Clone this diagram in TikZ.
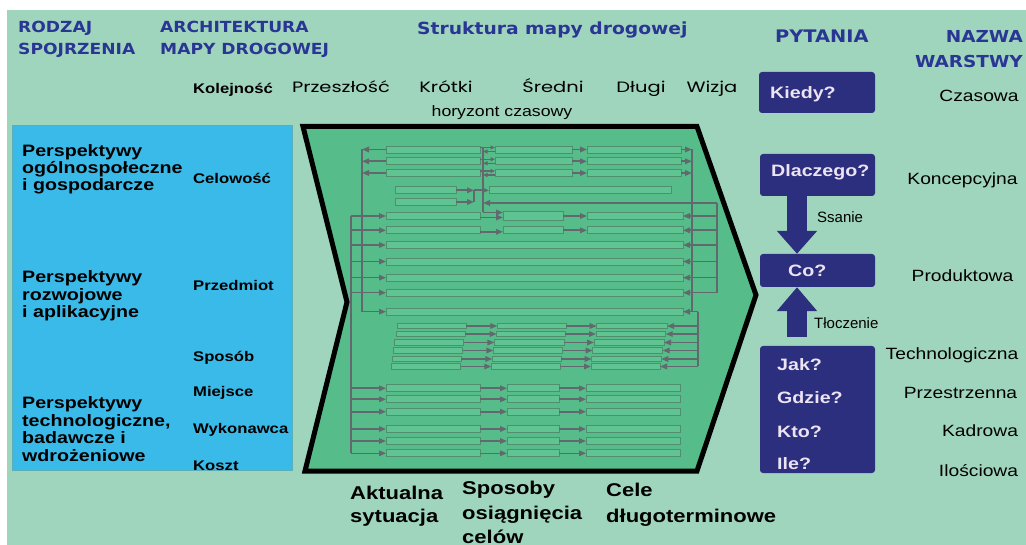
\documentclass[tikz,border=0pt]{standalone}
\usepackage{fontspec}
\setmainfont{Liberation Sans}
\newfontfamily\heavy{DejaVu Sans}[FakeStretch=1.12]
\newfontfamily\semiheavy{Liberation Sans Bold}[FakeStretch=1.19]
\newfontfamily\wideR{Liberation Sans}[FakeStretch=1.18]
\newfontfamily\geo{Poppins}[FakeStretch=1.3]
\usetikzlibrary{arrows.meta,calc}
\definecolor{bgG}{RGB}{160,213,189}
\definecolor{chevG}{RGB}{86,188,138}
\definecolor{barF}{RGB}{96,195,146}
\definecolor{barD}{RGB}{80,142,110}
\definecolor{lineG}{RGB}{98,104,110}
\definecolor{skyB}{RGB}{58,186,232}
\definecolor{navy}{RGB}{44,46,126}
\definecolor{hdr}{RGB}{42,54,148}
\definecolor{qtxt}{RGB}{236,228,242}
\tikzset{
  barbox/.style={draw=barD, fill=barF, line width=0.8pt, inner sep=0pt, outer sep=0pt},
  wire/.style={draw=lineG, line width=1.6pt},
  conn/.style={wire, -{Triangle[length=7pt,width=5.5pt]}},
  sconn/.style={wire, line width=1.2pt, -{Triangle[length=4.5pt,width=4pt]}},
  qbox/.style={fill=navy, rounded corners=3pt, inner sep=0pt},
  blockarrow/.style={draw=navy, line width=20pt},
  hd/.style={inner sep=0pt, text=hdr, font=\heavy\bfseries\fontsize{15.3}{18}\selectfont},
  hdbig/.style={inner sep=0pt, text=hdr, font=\heavy\bfseries\fontsize{16.5}{20}\selectfont},
  bk/.style={inner sep=0pt, text=black, font=\semiheavy\fontsize{16.5}{18}\selectfont},
  bks/.style={inner sep=0pt, text=black, font=\semiheavy\fontsize{14}{16}\selectfont},
  bkl/.style={inner sep=0pt, text=black, font=\semiheavy\fontsize{18.5}{20}\selectfont},
  tl/.style={inner sep=0pt, text=black, font=\geo\fontsize{15}{16}\selectfont},
  lay/.style={inner sep=0pt, text=black, font=\wideR\fontsize{16.3}{18}\selectfont},
  sm/.style={inner sep=0pt, text=black, font=\fontsize{15}{18}\selectfont},
  qt/.style={inner sep=0pt, text=qtxt, font=\semiheavy\fontsize{16.5}{18}\selectfont},
}
\newcommand\mkbar[5][7]{\node[barbox, minimum height=#1, minimum width={#4-#3}] (#2) at ({(#3+#4)/2},#5) {};}
\begin{document}
\begin{tikzpicture}[x=1pt,y=-1pt]
\useasboundingbox (0,0) rectangle (1026,545);
\fill[white] (0,0) rectangle (1026,545);
\fill[bgG] (7,10) rectangle (1026,545);

% left blue panel
\node[fill=skyB, draw={rgb,255:red,90;green,175;blue,185}, line width=0.8pt, anchor=north west,
      minimum width=280, minimum height=345, inner sep=0pt] (perspbox) at (12,125) {};

% chevron
\draw[line width=5pt, fill=chevG, line join=miter, miter limit=10]
  (303,126.5) -- (697,126.5) -- (756,295) -- (697,471) -- (305,471) -- (347,302) -- cycle;

% ---------- bars ----------
\foreach \i/\y in {1/149.5,2/161.3,3/173}{
  \mkbar{R\i a}{386}{480}{\y}
  \mkbar{R\i b}{495}{572}{\y}
  \mkbar{R\i c}{587}{681}{\y}
}
\mkbar{R4a}{395}{456}{190.3}
\mkbar{R5a}{395}{456}{202}
\mkbar{R4b}{489}{671}{190.3}
\mkbar{R6a}{386}{480}{216}
\mkbar[9]{R6b}{503}{563}{216}
\mkbar{R6c}{587}{683}{216}
\mkbar{R7a}{386}{480}{230.3}
\mkbar{R7b}{503}{563}{230.3}
\mkbar{R7c}{587}{683}{230.3}
\foreach \i/\y in {8/245,9/261.5,10/277.7,11/292.7,12/311.7}{
  \mkbar{R\i a}{386}{683}{\y}
}
\foreach \i/\y/\xa/\xb/\xc/\xd/\xe/\xf in {
  13/326/397/466/497.3/566/596.7/667,
  14/334/396.3/465/496.7/565.3/596/665.7,
  15/342.5/394.3/463.7/494.3/564/594/664,
  16/350.5/393.3/462.7/493.3/562.7/592.7/662.7,
  17/359/392.3/461.3/492.3/561.3/591.7/661.3,
  18/366.5/391/460.7/491.3/560.3/591/660}{
  \mkbar[5.5]{R\i a}{\xa}{\xb}{\y}
  \mkbar[5.5]{R\i b}{\xc}{\xd}{\y}
  \mkbar[5.5]{R\i c}{\xe}{\xf}{\y}
}
\foreach \i/\y in {19/388.3,20/399.3,21/411.7,22/429,23/441,24/453.3}{
  \mkbar{R\i a}{386}{480}{\y}
  \mkbar{R\i b}{507}{559}{\y}
  \mkbar{R\i c}{586}{680}{\y}
}

% ---------- junction coordinates ----------
\coordinate (L362t) at (362,149.5);  \coordinate (L362b) at (362,311.7);
\coordinate (L351t) at (351,216);    \coordinate (L351b) at (351,453.3);
\coordinate (M483t) at (483,147.5);  \coordinate (M483b) at (483,212.5);
\coordinate (J4) at (474,190.3);     \coordinate (J5) at (474,202);
\coordinate (R717t) at (717,203);    \coordinate (R717b) at (717,292.7);
\coordinate (R692t) at (692,149.5);  \coordinate (R692b) at (692,311.7);
\coordinate (R698t) at (698,311.7);  \coordinate (R698b) at (698,366.5);

% vertical collectors
\draw[wire] (L362t) -- (L362b);
\draw[wire] (L351t) -- (L351b);
\draw[wire] (M483t) -- (M483b);
\draw[wire] (J4) -- (J5);
\draw[wire] (R717t) -- (R717b);
\draw[wire] (R692t) -- (R692b);
\draw[wire] (R698t) -- (R698b);

% rows 1-3
\foreach \i in {1,2,3}{
  \draw[conn] (R\i a.west) -- (R\i a.west -| L362t);
  \draw[sconn] ($(R\i a.east)+(0,-2)$) -- ($(R\i b.west)+(0,-2)$);
  \draw[sconn] ($(R\i b.west)+(0,2)$) -- ($(R\i b.west -| M483t)+(0,2)$);
  \draw[conn] (R\i b.east) -- (R\i c.west);
  \draw[conn] (R\i c.east) -- (R\i c.east -| R692t);
}
% rows 4-5
\draw[conn] (R4a.east) -- (J4);
\draw[conn] (R5a.east) -- (J5);
\draw[conn] (J4) -- (R4b.west);
\draw[conn] (R717t) -- (R717t -| M483t);
% rows 6-7
\draw[conn] (M483b) -- (M483b -| R6b.west);
\foreach \i in {6,7}{
  \draw[conn] ($(R\i a.east)+(0,1.5)$) -- ($(R\i b.west)+(0,1.5)$);
  \draw[conn] (R\i b.east) -- (R\i c.west);
  \draw[conn] (R\i c.east -| R717t) -- (R\i c.east);
}
\foreach \i in {8,9,10,11}{
  \draw[conn] (R\i a.east -| R717t) -- (R\i a.east);
}
\foreach \i in {6,7,8,9,10,11,19,20,21,22,23,24}{
  \draw[conn] (R\i a.west -| L351t) -- (R\i a.west);
}
% row 12
\draw[conn] (L362b) -- (R12a.west);
\draw[conn] (R698t) -- (R12a.east);
% rows 13-18
\foreach \i in {13,14,15,16,17,18}{
  \draw[conn] (R\i a.east) -- (R\i b.west);
  \draw[conn] (R\i b.east) -- (R\i c.west);
  \draw[conn] (R\i c.east -| R698t) -- (R\i c.east);
}
% rows 19-24
\foreach \i in {19,20,21,22,23,24}{
  \draw[conn] (R\i a.east) -- (R\i b.west);
  \draw[conn] (R\i b.east) -- (R\i c.west);
}

% ---------- question boxes ----------
\node[qbox, minimum width=116, minimum height=41] (kiedybox) at (817,92.5) {};
\node[qbox, minimum width=115, minimum height=42] (dlbox) at (817.5,175) {};
\node[qbox, minimum width=115, minimum height=33] (cobox) at (817.5,270.5) {};
\node[qbox, minimum width=115, minimum height=127] (botbox) at (817.5,409.5) {};
\draw[blockarrow, -{Triangle[length=23pt,width=39pt]}] ([xshift=-20.5pt]dlbox.south) -- ([xshift=-20.5pt]cobox.north);
\draw[blockarrow, -{Triangle[length=24pt,width=39pt]}] ([xshift=-20.5pt,yshift=9pt]botbox.north) -- ([xshift=-20.5pt]cobox.south);

\node[qt, anchor=base west] (qkiedy) at (770,99) {Kiedy?};
\node[qt, anchor=base west] (qdl) at (771,177) {Dlaczego?};
\node[qt, anchor=base west] (qco) at (788,277) {Co?};
\node[qt, anchor=base west] (qjak) at (777,371) {Jak?};
\node[qt, anchor=base west] (qgdzie) at (777,403) {Gdzie?};
\node[qt, anchor=base west] (qkto) at (777,437) {Kto?};
\node[qt, anchor=base west] (qile) at (777,469) {Ile?};
\node[sm, anchor=base west] (ssanie) at (817,223) {Ssanie};
\node[sm, anchor=base west] (tlocz) at (814,329) {Tłoczenie};

% ---------- headers ----------
\node[hd, anchor=base west] (h1a) at (18,33) {RODZAJ};
\node[hd, anchor=base west] (h1b) at (18,55) {SPOJRZENIA};
\node[hd, anchor=base west] (h2a) at (160,33) {ARCHITEKTURA};
\node[hd, anchor=base west] (h2b) at (160,55) {MAPY DROGOWEJ};
\node[hdbig, anchor=base west, font=\heavy\bfseries\fontsize{16.7}{20}\selectfont] (h3) at (417,35) {Struktura mapy drogowej};
\node[hdbig, anchor=base west, font=\heavy\bfseries\fontsize{17.3}{20}\selectfont] (h4) at (775,43) {PYTANIA};
\node[hdbig, anchor=base east] (h5a) at (1023,43) {NAZWA};
\node[hdbig, anchor=base east] (h5b) at (1023,68) {WARSTWY};

% ---------- timeline ----------
\node[bks, anchor=base west] (kol) at (193,94) {Kolejność};
\node[tl, anchor=base] (t1) at (341,93) {Przeszłość};
\node[tl, anchor=base] (t2) at (446,93) {Krótki};
\node[tl, anchor=base] (t3) at (553,93) {Średni};
\node[tl, anchor=base] (t4) at (641,93) {Długi};
\node[tl, anchor=base] (t5) at (712,93) {Wizja};
\node[sm, anchor=base, font=\wideR\fontsize{15}{18}\selectfont] (hor) at (502,117) {horyzont czasowy};

% ---------- left panel texts ----------
\node[bk, anchor=base west] (p1a) at (22,157) {Perspektywy};
\node[bk, anchor=base west] (p1b) at (22,174) {ogólnospołeczne};
\node[bk, anchor=base west] (p1c) at (22,191) {i gospodarcze};
\node[bk, anchor=base west] (p2a) at (22,283) {Perspektywy};
\node[bk, anchor=base west] (p2b) at (22,301) {rozwojowe};
\node[bk, anchor=base west] (p2c) at (22,318) {i aplikacyjne};
\node[bk, anchor=base west] (p3a) at (22,408) {Perspektywy};
\node[bk, anchor=base west] (p3b) at (22,426) {technologiczne,};
\node[bk, anchor=base west] (p3c) at (22,443) {badawcze i};
\node[bk, anchor=base west] (p3d) at (22,461) {wdrożeniowe};
\node[bks, anchor=base west] (c1) at (193,184) {Celowość};
\node[bks, anchor=base west] (c2) at (193,291) {Przedmiot};
\node[bks, anchor=base west] (c3) at (193,362) {Sposób};
\node[bks, anchor=base west] (c4) at (193,397) {Miejsce};
\node[bks, anchor=base west] (c5) at (193,433) {Wykonawca};
\node[bks, anchor=base west] (c6) at (193,470) {Koszt};

% ---------- layer names ----------
\node[lay, anchor=base] (w1) at (979,101.7) {Czasowa};
\node[lay, anchor=base] (w2) at (962.5,184.3) {Koncepcyjna};
\node[lay, anchor=base] (w3) at (962.5,281.7) {Produktowa};
\node[lay, anchor=base] (w4) at (952,360) {Technologiczna};
\node[lay, anchor=base] (w5) at (960.5,399) {Przestrzenna};
\node[lay, anchor=base] (w6) at (980,436.7) {Kadrowa};
\node[lay, anchor=base] (w7) at (978.5,476) {Ilościowa};

% ---------- bottom labels ----------
\node[bkl, anchor=base west] (b1a) at (350,499) {Aktualna};
\node[bkl, anchor=base west] (b1b) at (350,522) {sytuacja};
\node[bkl, anchor=base west] (b2a) at (462,494.5) {Sposoby};
\node[bkl, anchor=base west] (b2b) at (462,519.5) {osiągnięcia};
\node[bkl, anchor=base west] (b2c) at (462,543) {celów};
\node[bkl, anchor=base west] (b3a) at (606,496.7) {Cele};
\node[bkl, anchor=base west] (b3b) at (606,522.7) {długoterminowe};
\end{tikzpicture}
\end{document}
